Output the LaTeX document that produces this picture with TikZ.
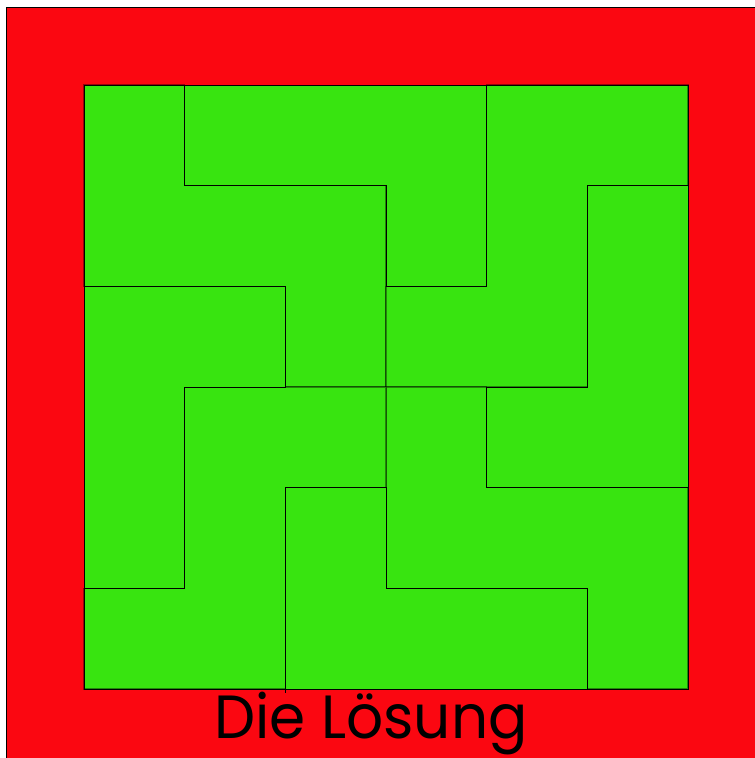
\documentclass[tikz,border=0pt]{standalone}
\usepackage{fontspec}
\setmainfont{Poppins}
\definecolor{bgred}{RGB}{251,7,17}
\definecolor{pgreen}{RGB}{56,228,16}
\tikzset{
  bigpiece/.style={fill=pgreen,draw=black,draw opacity=0.4,line width=1.4pt,line join=miter},
  smallpiece/.style={fill=pgreen,draw=black,line width=0.7pt,line join=miter},
}
\begin{document}
\begin{tikzpicture}[x=1pt,y=-1pt]
\useasboundingbox (0,0) rectangle (755,758);
\fill[white] (0,0) rectangle (755,758);
\draw[fill=bgred,draw=black,line width=0.9pt] (6.5,7.5) rectangle (760,763);
\begin{scope}[shift={(84,85)},x=100.67pt,y=-100.67pt]
\fill[pgreen] (0,0) rectangle (6,6);
% five-cell pieces
\draw[bigpiece] (0,0)--(1,0)--(1,1)--(3,1)--(3,3)--(2,3)--(2,2)--(0,2)--cycle;
\draw[bigpiece] (6,0)--(6,1)--(5,1)--(5,3)--(3,3)--(3,2)--(4,2)--(4,0)--cycle;
\draw[bigpiece] (6,6)--(5,6)--(5,5)--(3,5)--(3,3)--(4,3)--(4,4)--(6,4)--cycle;
\draw[bigpiece] (0,6)--(0,5)--(1,5)--(1,3)--(3,3)--(3,4)--(2,4)--(2,6)--cycle;
% four-cell pieces
\draw[smallpiece] (1,0)--(4,0)--(4,2)--(3,2)--(3,1)--(1,1)--cycle;
\draw[smallpiece] (6,1)--(6,4)--(4,4)--(4,3)--(5,3)--(5,1)--cycle;
\draw[smallpiece] (5,6)--(2,6)--(2,4)--(3,4)--(3,5)--(5,5)--cycle;
\draw[smallpiece] (0,5)--(0,2)--(2,2)--(2,3)--(1,3)--(1,5)--cycle;
\draw[black,line width=0.7pt] (2,6)--(2,6.04);
\draw[black,line width=1pt] (0,0) rectangle (6,6);
\end{scope}
\node[anchor=base west,inner sep=0pt,xscale=0.953,font=\fontsize{61}{61}\selectfont] (title) at (214,738) {Die Lösung};
\end{tikzpicture}
\end{document}
